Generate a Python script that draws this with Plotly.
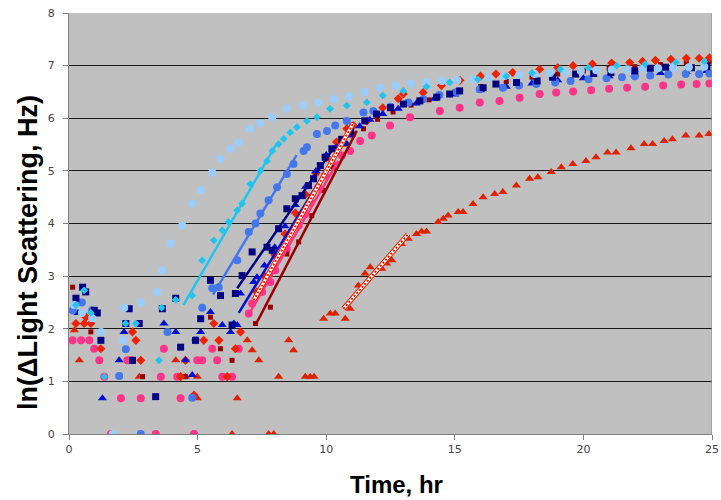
import plotly.graph_objects as go

# ---------------- data ----------------
# Light blue circles
LB_t = [0.2, 0.5, 0.9, 1.25, 1.7, 2.1, 2.15, 2.8, 3.43, 3.63, 3.95, 4.4, 4.79, 5.12, 5.57, 5.89,
        6.28, 6.6, 7.05, 7.44, 7.9, 8.47, 9.1, 9.7, 10.3, 10.9, 11.5, 12.1, 12.7, 13.3, 13.9,
        14.5, 15.1, 15.7, 16.3, 16.9, 17.5, 18.1, 18.7, 19.3, 19.9, 20.5, 21.1, 21.7, 22.3,
        22.9, 23.5, 24.1, 24.7]
LB_v = [2.45, 2.3, 2.2, 1.94, 0.0, 1.78, 2.4, 2.5, 2.7, 3.11, 3.62, 3.96, 4.38, 4.63, 4.97, 5.23,
        5.42, 5.54, 5.8, 5.91, 6.02, 6.18, 6.24, 6.3, 6.36, 6.42, 6.5, 6.58, 6.62, 6.66, 6.69,
        6.71, 6.72, 6.74, 6.77, 6.8, 6.82, 6.84, 6.86, 6.88, 6.9, 6.91, 6.92, 6.93, 6.94,
        6.95, 6.96, 6.97, 6.98]

# Cyan small diamonds
CY_t = [0.27, 0.59, 0.85, 1.37, 2.2, 2.6, 3.5, 3.6, 4.15, 4.79, 5.18, 5.63, 5.96, 6.2, 6.54, 6.73,
        7.05, 7.44, 7.7, 7.9, 8.15, 8.35, 8.6, 8.86, 9.25, 9.64, 10.15, 10.8, 11.58, 12.2, 13.0,
        13.9, 14.8, 15.9, 17.0, 18.0, 19.1, 20.2, 21.3, 22.4, 23.6, 24.7]
CY_v = [2.45, 2.73, 2.3, 1.09, 2.1, 2.1, 1.4, 2.4, 2.55, 2.63, 3.3, 3.68, 3.87, 4.03, 4.25, 4.38,
        4.75, 5.0, 5.19, 5.38, 5.51, 5.61, 5.73, 5.83, 5.95, 6.02, 6.18, 6.24, 6.3, 6.43, 6.52,
        6.6, 6.68, 6.74, 6.8, 6.86, 6.93, 6.96, 7.0, 7.03, 7.06, 7.08]

# Medium blue circles
MB_t = [0.15, 0.5, 0.9, 1.95, 2.21, 2.79, 3.83, 4.79, 4.92, 5.18, 5.57, 5.82, 6.54, 6.99, 7.25,
        7.44, 7.76, 8.09, 8.47, 8.73, 9.12, 9.25, 9.64, 10.03, 10.35, 10.8, 11.45, 11.83, 12.5,
        13.2, 13.77, 14.4, 15.07, 15.97, 16.87, 17.5, 18.17, 18.9, 19.5, 20.2, 20.9, 21.5, 22.0,
        22.6, 23.3, 23.98, 24.5, 24.9]
MB_v = [2.35, 2.5, 2.35, 1.1, 1.61, 0.0, 1.94, 0.69, 1.78, 2.4, 2.77, 2.79, 3.3, 3.84, 4.0,
        4.19, 4.44, 4.69, 4.94, 5.13, 5.38, 5.45, 5.7, 5.76, 5.86, 5.95, 6.11, 6.14, 6.22,
        6.3, 6.36, 6.44, 6.5, 6.55, 6.58, 6.62, 6.65, 6.68, 6.71, 6.74, 6.76, 6.78, 6.8,
        6.81, 6.83, 6.84, 6.84, 6.85]

# Navy squares
NV_t = [0.27, 0.53, 0.65, 0.98, 1.1, 1.24, 2.21, 2.34, 2.47, 2.73, 3.37, 3.63, 4.15, 4.34, 4.92,
        5.12, 5.5, 5.89, 6.34, 6.47, 6.73, 7.12, 7.7, 7.9, 8.15, 8.47, 8.8, 9.06, 9.31, 9.51,
        9.77, 9.96, 10.22, 10.6, 10.95, 11.5, 11.96, 12.5, 13.0, 13.64, 14.3, 14.8, 15.19, 16.1,
        16.6, 17.4, 18.2, 18.8, 19.7, 20.4, 21.07, 22.0, 22.6, 23.2, 24.2, 24.8]
NV_v = [2.58, 2.79, 2.7, 2.35, 2.3, 1.78, 2.1, 2.38, 1.4, 2.1, 0.71, 2.38, 2.58, 1.65, 1.78,
        2.19, 2.92, 2.63, 2.07, 2.67, 3.01, 3.46, 3.55, 3.49, 3.9, 4.28, 4.47, 4.53, 4.72, 4.85,
        5.1, 5.26, 5.42, 5.6, 5.75, 5.95, 6.08, 6.2, 6.27, 6.33, 6.4, 6.46, 6.52, 6.58,
        6.65, 6.68, 6.71, 6.78, 6.84, 6.85, 6.87, 6.9, 6.95, 6.97, 6.96, 6.98]

# Blue triangles
BT_t = [0.14, 0.35, 1.3, 1.95, 2.14, 3.69, 4.15, 4.53, 4.79, 5.12, 5.5, 5.96, 6.28, 6.41, 6.54,
        6.67, 7.18, 7.31, 7.6, 8.0, 8.4, 8.8, 9.2, 9.6, 10.0, 10.4, 10.8, 10.93, 11.3, 11.7,
        12.2, 12.8, 13.5, 14.2, 15.0, 16.0, 17.0, 18.0, 19.0, 20.0, 21.0, 22.0, 23.0, 24.0, 24.8]
BT_v = [2.35, 2.3, 0.68, 1.4, 1.94, 2.1, 1.94, 1.4, 1.12, 1.94, 2.32, 2.07, 1.94, 2.1, 2.07,
        2.67, 2.89, 2.98, 3.2, 3.55, 3.95, 4.35, 4.7, 5.0, 5.3, 5.45, 5.51, 5.67, 5.85, 5.97,
        6.08, 6.18, 6.28, 6.37, 6.45, 6.53, 6.6, 6.66, 6.72, 6.76, 6.8, 6.83, 6.86, 6.88, 6.9]

# Pink circles
PK_t = [0.14, 0.47, 0.79, 0.98, 1.18, 1.37, 1.63, 2.02, 2.27, 2.45, 2.79, 3.37, 3.57, 3.69, 4.21,
        4.34, 4.86, 4.99, 5.18, 5.57, 5.76, 5.96, 6.34, 6.6, 6.99, 7.12, 7.51, 7.83, 8.02, 8.47,
        8.93, 9.19, 9.38, 9.7, 9.96, 10.22, 10.61, 10.93, 11.32, 11.77, 12.48, 13.26, 14.42,
        15.19, 15.97, 16.74, 17.52, 18.3, 18.94, 19.6, 20.3, 21.0, 21.7, 22.4, 23.1, 23.8,
        24.4, 24.9]
PK_v = [1.78, 1.78, 1.78, 1.62, 1.4, 1.09, 0.0, 0.68, 1.4, 1.4, 0.68, 0.0, 1.09, 1.62, 1.09,
        0.68, 0.0, 1.4, 1.4, 1.62, 1.4, 1.09, 1.09, 1.62, 2.29, 2.48, 2.7, 2.89, 3.11, 3.52,
        3.96, 4.18, 4.4, 4.69, 4.91, 5.16, 5.29, 5.38, 5.57, 5.67, 5.86, 6.02, 6.14,
        6.2, 6.3, 6.33, 6.39, 6.46, 6.49, 6.51, 6.53, 6.56, 6.58, 6.6, 6.62, 6.64,
        6.65, 6.66]

# Red diamonds
RD_t = [0.27, 0.59, 0.66, 0.85, 1.24, 2.47, 2.6, 2.79, 4.34, 4.53, 4.86, 5.24, 5.63, 5.83, 6.15,
        6.47, 6.67, 7.3, 7.6, 8.0, 8.4, 8.8, 9.2, 9.6, 10.0, 10.4, 10.8, 11.05, 11.58, 12.2,
        12.8, 13.0, 13.77, 14.48, 15.2, 16.0, 16.6, 17.25, 18.3, 19.0, 19.6, 20.35, 21.1, 21.8,
        22.3, 22.8, 23.4, 24.0, 24.5, 24.9]
RD_v = [2.1, 2.1, 2.22, 2.1, 1.62, 1.94, 1.78, 1.4, 1.09, 1.4, 0.74, 1.78, 2.1, 1.78, 1.09,
        1.62, 1.94, 2.7, 3.0, 3.4, 3.8, 4.2, 4.55, 4.95, 5.25, 5.55, 5.8, 5.86, 5.95, 6.2,
        6.37, 6.46, 6.49, 6.62, 6.72, 6.8, 6.84, 6.87, 6.93, 6.96, 7.0, 7.03, 7.05, 7.06,
        7.08, 7.1, 7.12, 7.14, 7.14, 7.15]

# Dark red small squares
DR_t = [0.14, 0.85, 2.86, 4.53, 5.5, 5.89, 6.34, 7.25, 7.83, 8.47, 8.93, 9.44, 9.9, 10.28, 10.74,
        11.06, 11.45, 12.0, 12.6, 13.3, 14.0, 15.0, 16.0, 17.0, 18.0, 19.0, 20.0, 21.0, 22.0,
        23.0, 24.0, 24.9]
DR_v = [2.79, 1.94, 1.09, 1.09, 2.22, 1.62, 1.4, 2.1, 2.41, 3.42, 3.65, 4.15, 4.63, 5.07, 5.51,
        5.7, 5.8, 5.98, 6.12, 6.25, 6.35, 6.5, 6.6, 6.7, 6.78, 6.84, 6.9, 6.95, 6.98,
        7.02, 7.05, 7.07]

# Red triangles (late series)
RT_t = [0.21, 0.4, 2.73, 4.15, 4.53, 4.99, 4.99, 6.34, 6.54, 6.93, 7.12, 7.38, 7.76, 7.96, 8.15,
        8.54, 8.73, 9.19, 9.38, 9.53, 9.9, 10.16, 10.35, 10.74, 10.93, 11.25, 11.51, 11.71, 12.16,
        12.35, 12.55, 12.93, 13.19, 13.51, 13.71, 13.9, 14.35, 14.55, 14.74, 15.13, 15.32, 15.71,
        16.1, 16.55, 16.87, 17.39, 17.91, 18.23, 18.75, 19.14, 19.59, 20.1, 20.49, 20.94, 21.27,
        21.85, 22.36, 22.69, 23.14, 23.46, 23.98, 24.5, 24.88]
RT_v = [1.97, 1.4, 1.09, 1.4, 1.09, 1.09, 0.68, 0.0, 0.68, 1.78, 1.59, 1.4, 0.0, 0.0, 1.09,
        1.78, 1.59, 1.09, 1.09, 1.09, 2.19, 2.29, 2.29, 2.19, 2.38, 2.82, 3.05, 3.17, 3.14,
        3.24, 3.3, 3.61, 3.71, 3.8, 3.85, 3.85, 4.03, 4.09, 4.15, 4.22, 4.22, 4.37,
        4.5, 4.56, 4.6, 4.72, 4.85, 4.88, 4.98, 5.07, 5.13, 5.19, 5.26, 5.35, 5.35,
        5.43, 5.51, 5.51, 5.57, 5.6, 5.67, 5.67, 5.7]

# Linear trend lines (end points)
CY_fit_t, CY_fit_v = [4.45, 8.05], [2.45, 5.5]
MB_fit_t, MB_fit_v = [5.6, 8.85], [2.65, 5.3]
NV_fit_t, NV_fit_v = [6.54, 10.35], [2.77, 5.48]
BT_fit_t, BT_fit_v = [6.6, 10.93], [2.3, 5.76]
PK_fit_t, PK_fit_v = [6.93, 10.47], [2.22, 5.19]
RD_fit_t, RD_fit_v = [7.18, 11.05], [2.54, 5.9]
DR_fit_t, DR_fit_v = [7.25, 11.19], [2.07, 5.76]
RT_fit_t, RT_fit_v = [10.67, 13.19], [2.38, 3.8]

X_TICKS = [0, 5, 10, 15, 20, 25]
Y_TICKS = [0, 1, 2, 3, 4, 5, 6, 7, 8]
X_TITLE = "Time, hr"
Y_TITLE = "ln(ΔLight Scattering, Hz)"

# ---------------- figure ----------------
fig = go.Figure()


def markers(t, v, color, symbol, size):
    fig.add_trace(go.Scatter(x=t, y=v, mode="markers",
                             marker=dict(color=color, symbol=symbol, size=size, line=dict(width=0)),
                             showlegend=False, hoverinfo="skip"))


def fit(t, v, color, width=2.5):
    fig.add_trace(go.Scatter(x=t, y=v, mode="lines", line=dict(color=color, width=width),
                             showlegend=False, hoverinfo="skip"))


def hatched(t, v, color):
    fig.add_trace(go.Scatter(x=t, y=v, mode="lines", line=dict(color=color, width=5),
                             showlegend=False, hoverinfo="skip"))
    fig.add_trace(go.Scatter(x=t, y=v, mode="lines", line=dict(color="#ffffff", width=3),
                             showlegend=False, hoverinfo="skip"))
    fig.add_trace(go.Scatter(x=t, y=v, mode="lines", line=dict(color=color, width=2, dash="2px,2px"),
                             showlegend=False, hoverinfo="skip"))


markers(RT_t, RT_v, "#dd2200", "triangle-up", 8)
markers(PK_t, PK_v, "#ff3388", "circle", 8)
markers(DR_t, DR_v, "#990000", "square", 5)
markers(RD_t, RD_v, "#ee2200", "diamond", 7)
markers(BT_t, BT_v, "#0010d0", "triangle-up", 8)
markers(MB_t, MB_v, "#4477ee", "circle", 8)
markers(NV_t, NV_v, "#000080", "square", 7)
markers(LB_t, LB_v, "#99ccff", "circle", 8)
markers(CY_t, CY_v, "#22c4ee", "diamond", 6)

fit(CY_fit_t, CY_fit_v, "#22c4ee")
fit(MB_fit_t, MB_fit_v, "#4477ee")
fit(NV_fit_t, NV_fit_v, "#000080")
fit(BT_fit_t, BT_fit_v, "#0010d0")
fit(PK_fit_t, PK_fit_v, "#ff3388")
hatched(RD_fit_t, RD_fit_v, "#ee2200")
fit(DR_fit_t, DR_fit_v, "#990000")
hatched(RT_fit_t, RT_fit_v, "#dd2200")

fig.add_shape(type="line", xref="x", yref="y", x0=25, x1=25, y0=0, y1=8,
              line=dict(color="#8a8a8a", width=1))

fig.add_annotation(text="<b>" + Y_TITLE + "</b>", xref="paper", yref="paper",
                   x=-0.064, y=0.432, xanchor="center", yanchor="middle", textangle=-90,
                   showarrow=False, font=dict(family="Liberation Sans", size=27, color="#000"))
fig.add_annotation(text="<b>" + X_TITLE + "</b>", xref="paper", yref="paper",
                   x=0.51, y=-0.119, xanchor="center", yanchor="middle",
                   showarrow=False, font=dict(family="Liberation Sans", size=24, color="#000"))

tick_font = dict(family="DejaVu Sans", size=11, color="#444444")

fig.update_layout(
    width=721, height=500,
    margin=dict(l=69, r=9, t=13, b=66),
    paper_bgcolor="#ffffff",
    plot_bgcolor="#c0c0c0",
    xaxis=dict(range=[0, 25], tickvals=X_TICKS, ticktext=[str(v) for v in X_TICKS],
               showgrid=False, zeroline=False, showline=True, linecolor="#808080", linewidth=1,
               ticks="outside", ticklen=5, tickcolor="#808080", tickfont=tick_font,
               automargin=False),
    yaxis=dict(range=[0, 8], tickvals=Y_TICKS, ticktext=[str(v) for v in Y_TICKS],
               showgrid=True, gridcolor="#1a1a1a", gridwidth=1, zeroline=False,
               showline=True, linecolor="#808080", linewidth=1,
               ticks="outside", ticklen=5, tickcolor="#808080", tickfont=tick_font,
               ticklabelstandoff=6, automargin=False),
)

# remove the default 8px page margin so the 721x500 figure fills the window exactly
fig.write_html("out.html", config={"displayModeBar": False},
               post_script="document.body.style.margin='0';document.body.style.overflow='hidden';")
